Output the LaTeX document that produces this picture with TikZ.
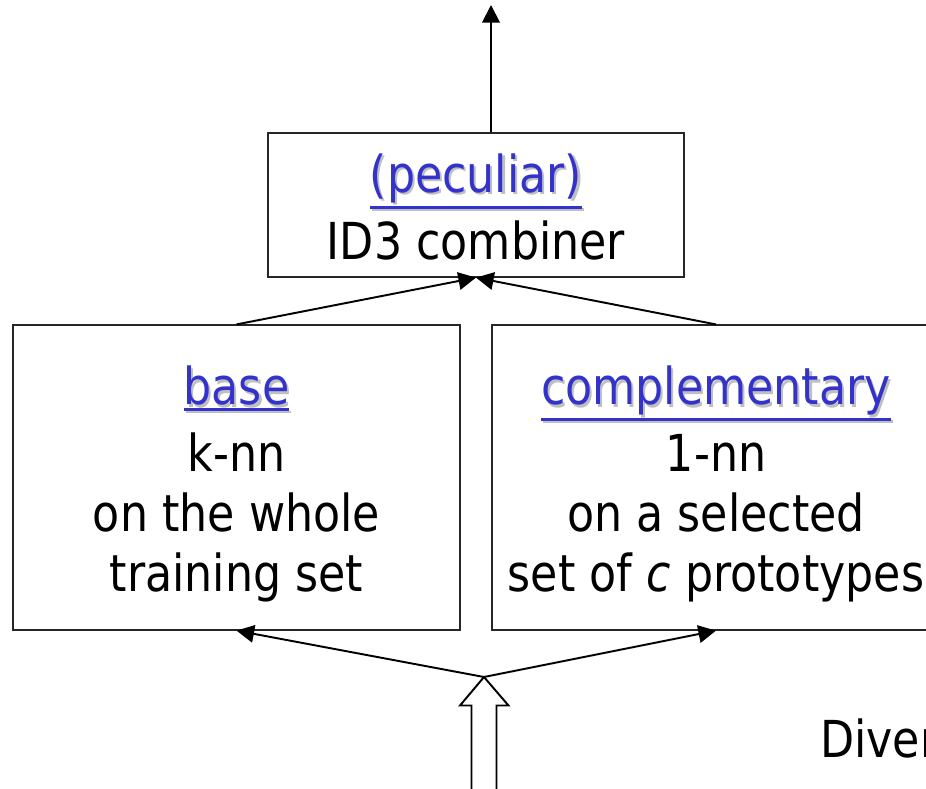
\documentclass[tikz,border=0pt]{standalone}
\usepackage{fontspec}
\setmainfont[FakeStretch=0.87]{DejaVu Sans}
\usetikzlibrary{arrows.meta}

\definecolor{linkblue}{RGB}{51,51,204}
% thick underline just below the baseline
\newcommand{\ulined}[1]{\vtop{\hbox{#1}\kern1.6pt\hrule height1.5pt}}
% blue underlined word with a light shadow
\newcommand{\linkword}[1]{\makebox[0pt][l]{\hspace{1.2pt}\raisebox{-1.2pt}{\textcolor{black!25}{\ulined{#1}}}}\textcolor{linkblue}{\ulined{#1}}}

\begin{document}
\begin{tikzpicture}[x=0.02cm, y=-0.02cm,
  every node/.style={font=\fontsize{29}{34}\selectfont},
  box/.style={draw=black!85, line width=0.7pt, inner sep=0pt},
  txt/.style={inner sep=0pt, align=center},
  conn/.style={line width=1.1pt, -{Triangle[length=10pt,width=10pt]}}]
\clip (0,0) rectangle (926,788);

% boxes
\node[box, minimum width=8.32cm, minimum height=2.88cm] (comb) at (476,205) {};
\node[box, minimum width=8.94cm, minimum height=6.1cm] (base) at (236.5,477.5) {};
\node[box, minimum width=8.96cm, minimum height=6.1cm] (comp) at (716,477.5) {};

% box texts
\node[txt] (combtxt) at ([yshift=-0.04cm]comb.center) {\linkword{(peculiar)}\\[4pt]ID3 combiner};
\node[txt] (basetxt) at ([yshift=-0.13cm]base.center) {\linkword{base}\\[4pt]k-nn\\on the whole\\training set};
\node[txt] (comptxt) at ([yshift=-0.13cm]comp.center) {\linkword{complementary}\\[4pt]1-nn\\on a selected\\set of \textit{c} prototypes};
\node[anchor=base west] (div) at (814,757) {Diver};

\coordinate (out) at (491,5);
\coordinate (fork) at (484,677);

\draw[conn] (comb.north -| out) -- (out);
\draw[conn] (base.north) -- (comb.south);
\draw[conn] (comp.north) -- (comb.south);
\draw[conn] (fork) -- (base.south);
\draw[conn] (fork) -- (comp.south);

% hollow input arrow
\draw[line width=1.1pt] (fork) -- (508.5,705.5) -- (496.5,705.5) -- (496.5,800)
  -- (471.5,800) -- (471.5,705.5) -- (460,705.5) -- cycle;
\end{tikzpicture}
\end{document}
